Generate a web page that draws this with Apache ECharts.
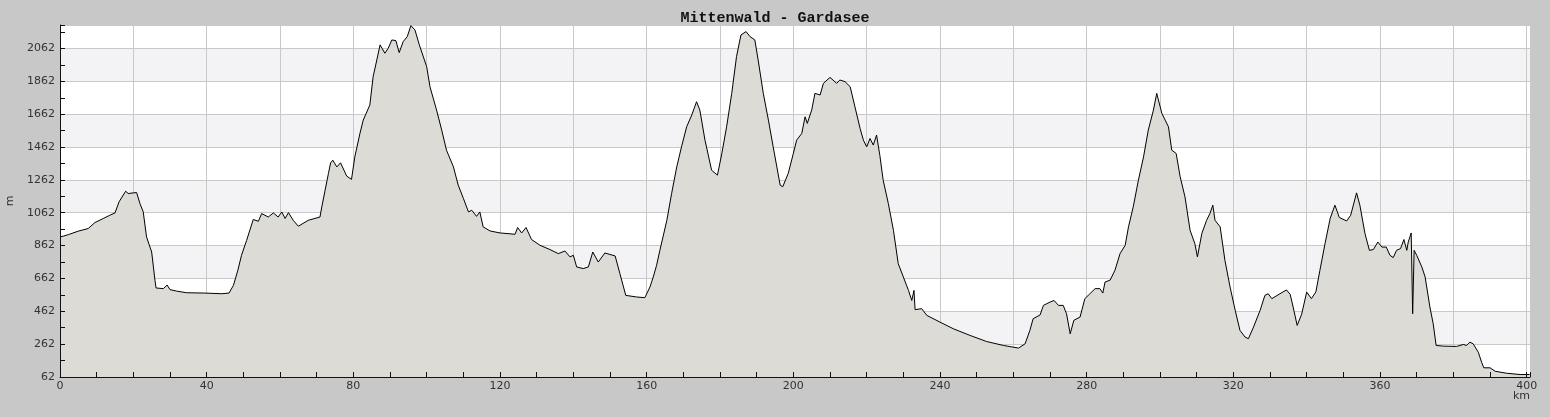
<!DOCTYPE html>
<html><head><meta charset="utf-8">
<script src="https://cdn.jsdelivr.net/npm/echarts@6/dist/echarts.min.js"></script>
<style>html,body{margin:0;padding:0;background:#c8c8c8;}#c{width:1550px;height:417px;}</style>
</head><body><div id="c"></div>
<script>
const chartTitle = 'Mittenwald - Gardasee';
const xAxisName = 'km';
const yAxisName = 'm';
const yTickLabels = [62, 262, 462, 662, 862, 1062, 1262, 1462, 1662, 1862, 2062];
const xTickLabels = [0, 40, 80, 120, 160, 200, 240, 280, 320, 360, 400];

const distanceKm = [
  0, 1, 2.3, 5.0, 7.7, 9.5, 11.8, 13.6, 15.0, 16.1, 17.9, 18.6, 20.9, 21.8, 22.7, 23.6, 25.0, 25.9, 26.2, 28.2,
  29.2, 30.0, 31.8, 34.5, 39.5, 44.1, 46.1, 47.3, 48.5, 49.5, 50.9, 52.7, 54.1, 55.0, 56.8, 58.2, 59.5, 60.5, 61.4, 62.3,
  63.6, 65.0, 67.7, 70.9, 71.4, 72.3, 73.2, 73.8, 74.4, 75.5, 76.5, 78.2, 79.5, 80.4, 81.8, 82.7, 84.5, 85.4, 86.4, 87.3,
  88.6, 89.5, 90.5, 91.6, 92.5, 93.6, 94.7, 95.7, 96.8, 98.0, 100.0, 100.9, 102.7, 104.1, 105.4, 107.3, 108.6, 110.0, 111.4, 112.3,
  113.6, 114.5, 115.4, 117.3, 120.0, 124.1, 124.8, 125.9, 127.1, 128.6, 130.9, 133.6, 135.9, 137.7, 139.1, 140.0, 140.9, 142.7, 144.1, 145.3,
  146.8, 148.6, 151.4, 152.7, 154.3, 157.3, 159.5, 160.9, 161.8, 162.7, 163.6, 165.5, 166.8, 168.2, 169.5, 170.9, 172.3, 173.6, 174.5, 175.9,
  176.8, 177.7, 179.3, 180.5, 181.8, 183.2, 184.5, 185.7, 187.1, 188.2, 189.5, 190.4, 191.8, 193.2, 194.5, 195.5, 196.4, 197.1, 198.6, 200.0,
  200.9, 202.3, 203.2, 203.8, 205.0, 205.9, 207.3, 208.2, 210.0, 211.8, 212.7, 214.1, 215.5, 216.8, 218.2, 219.1, 220.0, 220.9, 221.8, 222.7,
  223.6, 224.5, 225.9, 227.3, 228.6, 230.0, 231.4, 232.3, 232.9, 233.2, 235.0, 236.4, 240.0, 243.6, 248.2, 252.7, 257.3, 261.4, 263.2, 264.5,
  265.4, 267.3, 268.2, 270.0, 271.1, 272.3, 273.6, 274.5, 275.5, 276.5, 278.2, 279.5, 280.7, 282.3, 283.6, 284.4, 285.0, 286.4, 287.7, 289.1,
  290.5, 291.4, 292.7, 294.1, 295.5, 296.8, 298.2, 299.1, 299.5, 300.5, 301.4, 302.3, 303.2, 304.4, 305.5, 306.8, 308.2, 309.5, 310.2, 311.4,
  312.7, 313.6, 314.4, 315.0, 316.4, 317.7, 319.1, 320.5, 321.8, 323.2, 324.1, 325.5, 327.3, 328.6, 329.5, 330.5, 332.7, 334.5, 335.5, 336.3,
  337.4, 338.6, 340.0, 341.3, 342.5, 343.6, 345.0, 346.4, 347.7, 348.9, 350.9, 352.0, 353.6, 354.5, 355.9, 357.1, 358.2, 359.4, 360.5, 361.7,
  362.7, 363.6, 364.5, 365.6, 366.5, 367.3, 367.7, 368.5, 368.9, 369.3, 370.0, 371.4, 372.3, 373.6, 374.5, 375.3, 377.3, 380.9, 382.7, 383.6,
  384.5, 385.4, 386.8, 387.7, 388.3, 390.0, 391.4, 394.5, 398.2, 400.8
];
const elevationM = [
  915, 920, 929, 950, 966, 1002, 1027, 1047, 1061, 1128, 1193, 1179, 1185, 1118, 1067, 915, 823, 650, 604, 600,
  622, 594, 585, 575, 573, 569, 573, 620, 711, 803, 894, 1021, 1010, 1057, 1036, 1061, 1036, 1067, 1027, 1063,
  1016, 980, 1016, 1036, 1098, 1199, 1300, 1365, 1382, 1341, 1366, 1285, 1265, 1402, 1545, 1626, 1718, 1890, 1992, 2084,
  2033, 2063, 2114, 2110, 2037, 2104, 2134, 2201, 2175, 2084, 1951, 1829, 1687, 1565, 1443, 1341, 1230, 1150, 1067, 1077,
  1040, 1067, 976, 951, 939, 931, 972, 939, 972, 899, 864, 838, 813, 829, 793, 803, 732, 722, 732, 823,
  762, 817, 799, 691, 559, 549, 545, 610, 671, 742, 833, 1016, 1179, 1341, 1463, 1585, 1657, 1738, 1687, 1504,
  1413, 1321, 1291, 1423, 1585, 1789, 2012, 2144, 2165, 2134, 2114, 1992, 1789, 1626, 1463, 1341, 1230, 1220, 1301, 1423,
  1504, 1545, 1646, 1606, 1687, 1789, 1779, 1850, 1886, 1850, 1870, 1860, 1829, 1707, 1575, 1504, 1463, 1514, 1474, 1535,
  1410, 1260, 1118, 955, 752, 671, 589, 528, 589, 472, 478, 437, 396, 356, 315, 278, 254, 238, 264, 345,
  417, 440, 498, 518, 528, 498, 498, 447, 325, 407, 427, 539, 565, 600, 600, 573, 640, 652, 711, 813,
  864, 976, 1098, 1260, 1402, 1565, 1687, 1789, 1799, 1667, 1626, 1585, 1443, 1423, 1280, 1159, 955, 874, 793, 935,
  1016, 1057, 1108, 1016, 976, 772, 610, 468, 346, 305, 295, 366, 468, 559, 569, 539, 569, 592, 565, 488,
  376, 442, 579, 539, 580, 711, 874, 1027, 1108, 1033, 1012, 1047, 1183, 1108, 935, 833, 838, 884, 853, 853,
  803, 789, 833, 844, 899, 833, 884, 939, 447, 833, 803, 732, 671, 488, 386, 254, 250, 248, 260, 254,
  274, 264, 213, 152, 118, 118, 97, 85, 77, 77
];

const profile = distanceKm.map((d, i) => [d, elevationM[i]]);
const X_MAX = 400.9, Y_MIN = 62, Y_MAX = 2205;
const labelFont = { fontFamily: 'DejaVu Sans', fontSize: 11, color: '#333333' };

const chart = echarts.init(document.getElementById('c'), null, { renderer: 'canvas' });
chart.setOption({
  animation: false,
  backgroundColor: '#c8c8c8',
  title: [
    {
      text: chartTitle, left: 'center', top: 6,
      textStyle: { fontFamily: 'Liberation Mono', fontWeight: 'bold', fontSize: 15, color: '#111111' }
    },
    {
      text: xAxisName, left: 1513, top: 391, padding: 0,
      textStyle: Object.assign({}, labelFont, { fontWeight: 'normal' })
    }
  ],
  grid: { left: 60, right: 20, top: 25, bottom: 40, outerBoundsMode: 'none', containLabel: false },
  xAxis: [
    {
      type: 'value', min: 0, max: X_MAX, interval: 10, position: 'bottom', z: 5,
      axisLine: { show: true, onZero: false, lineStyle: { color: '#111111', width: 1 } },
      axisTick: { show: true, inside: true, length: 5, lineStyle: { color: '#111111' } },
      axisLabel: Object.assign({}, labelFont, {
        margin: 4, showMaxLabel: true,
        formatter: v => (xTickLabels.indexOf(v) >= 0 ? String(v) : '')
      }),
      splitLine: { show: false }
    },
    {
      type: 'value', min: 0, max: X_MAX, interval: 20, position: 'bottom', z: 0,
      axisLine: { show: false }, axisTick: { show: false }, axisLabel: { show: false },
      splitLine: { show: true, lineStyle: { color: '#c9c9c9', width: 1 } }
    }
  ],
  yAxis: [
    {
      type: 'value', min: Y_MIN, max: Y_MAX, interval: 100, position: 'left', z: 5,
      name: yAxisName, nameLocation: 'middle', nameGap: 42,
      nameTextStyle: labelFont,
      axisLine: { show: true, onZero: false, lineStyle: { color: '#111111', width: 1 } },
      axisTick: { show: true, inside: true, length: 5, lineStyle: { color: '#111111' } },
      axisLabel: Object.assign({}, labelFont, {
        margin: 5,
        formatter: v => (yTickLabels.indexOf(v) >= 0 ? String(v) : '')
      }),
      splitLine: { show: false }
    },
    {
      type: 'value', min: Y_MIN, max: Y_MAX, interval: 200, position: 'left', z: 0,
      axisLine: { show: false }, axisTick: { show: false }, axisLabel: { show: false },
      splitLine: { show: true, lineStyle: { color: '#c9c9c9', width: 1 } },
      splitArea: { show: true, areaStyle: { color: ['#ffffff', '#f3f2f5'] } }
    }
  ],
  series: [{
    type: 'line', xAxisIndex: 0, yAxisIndex: 0,
    data: profile, showSymbol: false, symbol: 'none', smooth: false,
    lineStyle: { color: '#000000', width: 1 },
    areaStyle: { color: '#dcdbd6', opacity: 1, origin: 'start' },
    z: 2
  }]
});
</script></body></html>
